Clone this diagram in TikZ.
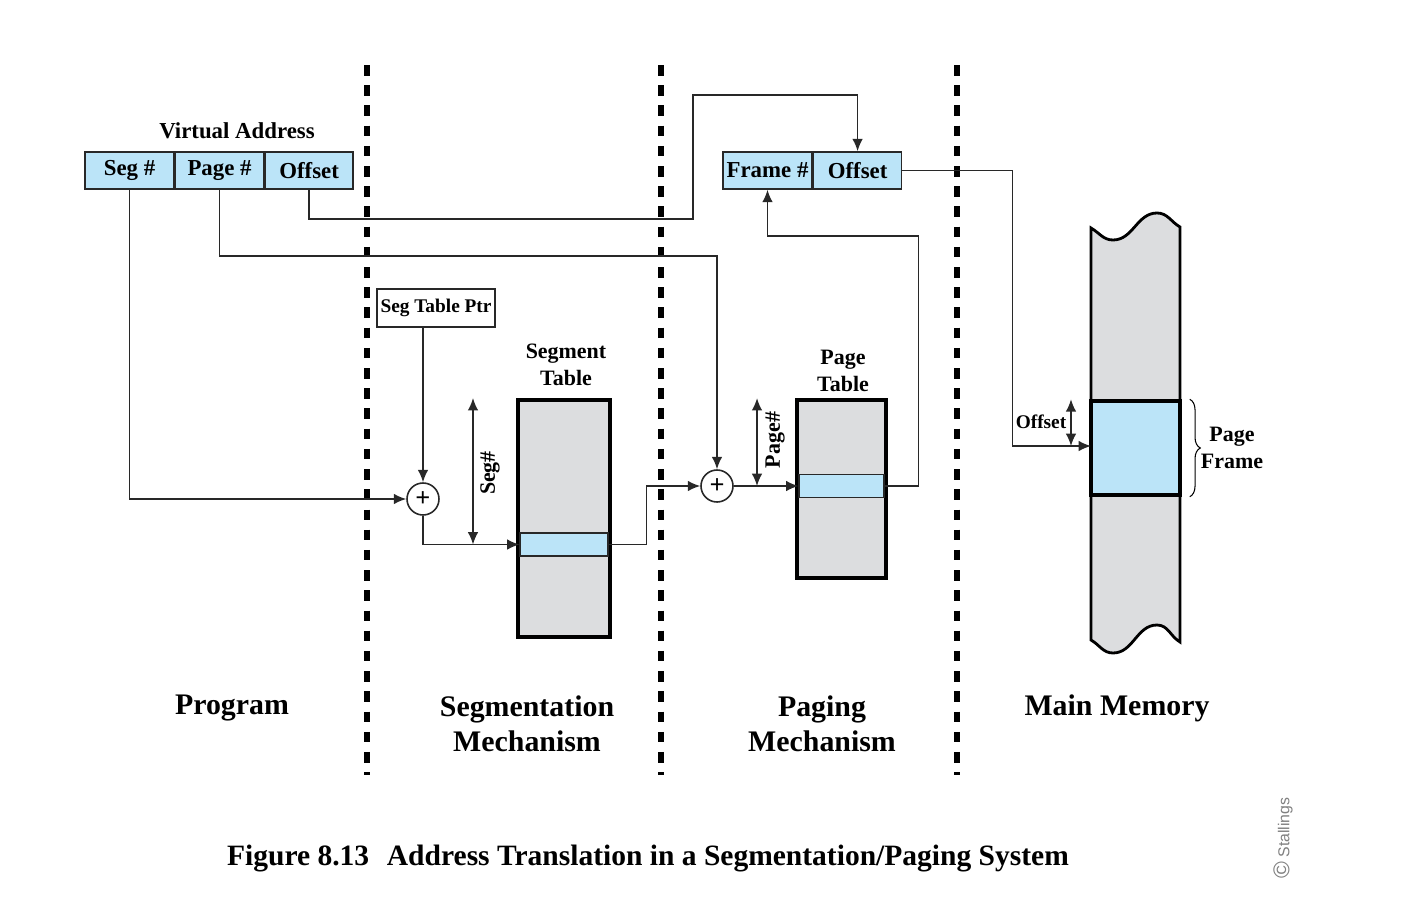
\documentclass[tikz,border=0pt]{standalone}
\usepackage{fontspec}
\setmainfont{Liberation Serif}
\setsansfont{Liberation Sans}
\usepackage {tikz}
\usetikzlibrary {positioning,decorations.pathreplacing,arrows.meta}
\definecolor{vablue}{RGB}{187,228,248}
\definecolor{tgray}{RGB}{220,221,223}
\definecolor{linec}{RGB}{40,40,40}

\begin{document}
\begin{tikzpicture}[x=0.02cm,y=-0.02cm,>={Latex[length=7pt,width=6pt]},line width=0.9pt,
    fld/.style ={rectangle,draw=linec,fill=vablue,inner sep=0pt,
    minimum height=0.74cm,font=\fontsize{13}{15}\selectfont\bfseries},
    adder/.style={circle,draw=linec,fill=white,inner sep=0pt,
    minimum size=0.64cm,font=\fontsize{15}{15}\selectfont\bfseries},
    tbl/.style={rectangle,draw=black,fill=tgray,line width=2.2pt,inner sep=0pt},
    row/.style={rectangle,draw=linec,fill=vablue,inner sep=0pt,
    minimum height=0.46cm,line width=0.6pt},
    sep/.style={line width=3.2pt,dash pattern=on 6pt off 5.5pt},
    lbl/.style={align=center,font=\fontsize{12.5}{15.3}\selectfont\bfseries},
    big/.style={align=center,font=\fontsize{17}{19.8}\selectfont\bfseries}
    ]
    \useasboundingbox (0,0) rectangle (1402,916);

    % separators
    \foreach \x in {367,661,957}
      \draw[sep] (\x,65) -- (\x,775);

    % virtual address
    \node[lbl,font=\fontsize{13}{15}\selectfont\bfseries] (va) at (237,131) {Virtual Address};
    \node[fld,minimum width=1.78cm] (seg) at (129.5,170.5) {Seg \#};
    \node[fld,minimum width=1.76cm] (page) [right=0pt of seg] {Page \#};
    \node[fld,minimum width=1.76cm] (off) [right=0pt of page] {Offset};

    % segmentation
    \node[rectangle,draw=linec,inner sep=0pt,minimum width=2.36cm,minimum height=0.76cm,
      font=\fontsize{11}{13}\selectfont\bfseries] (ptr) at (436,308) {Seg Table Ptr};
    \node[adder] (add1) at (423,499) {+};
    \node[lbl] (seglbl) at (566,365) {Segment\\Table};
    \node[tbl,minimum width=1.84cm,minimum height=4.74cm] (segtab) at (564,518.5) {};
    \node[row,minimum width=1.76cm] (segrow) at (564,544.5) {};
    \coordinate (segdim) at (473,0);
    \node[lbl,rotate=90] (seglab) at (490,473) {Seg\#};

    % paging
    \node[adder] (add2) at (717,486) {+};
    \node[lbl] (pglbl) at (843,371) {Page\\Table};
    \node[tbl,minimum width=1.78cm,minimum height=3.56cm] (pgtab) at (841.5,489) {};
    \node[row,minimum width=1.70cm] (pgrow) at (841.5,486) {};
    \coordinate (pgdim) at (757,0);
    \node[lbl,rotate=90] (pglab) at (775,440) {Page\#};
    \node[fld,minimum width=1.78cm] (frame) at (767.5,170.5) {Frame \#};
    \node[fld,minimum width=1.76cm] (off2) [right=0pt of frame] {Offset};

    % main memory
    \draw[fill=tgray,line width=1.6pt] (1091,228) to[out=-30,in=180] (1113,240)
      to[out=0,in=180] (1157,213) to[out=0,in=150] (1180,227) -- (1180,642)
      to[out=150,in=0] (1157,625) to[out=180,in=0] (1113,653)
      to[out=180,in=-30] (1091,640) -- cycle;
    \node[rectangle,draw=black,fill=vablue,line width=2pt,inner sep=0pt,
      minimum width=1.78cm,minimum height=1.88cm] (pframe) at (1135.5,448) {};
    \coordinate (offin) at (1091,446);
    \coordinate (offdim) at (1071,0);
    \node[lbl,font=\fontsize{11}{13}\selectfont\bfseries] (offlab) at (1041,422) {Offset};
    \draw[line width=0.6pt,decorate,decoration={brace,amplitude=6pt}]
      ([xshift=0.16cm]pframe.north east) -- ([xshift=0.16cm]pframe.south east);
    \node[lbl] (pflbl) at (1232,448) {Page\\Frame};

    % connectors
    \draw[->,linec] (seg.south) |- (add1.west);
    \draw[->,linec] (page.south) -- ++(0,66) -| (add2.north);
    \draw[->,linec] (off.south) -- ++(0,29) -- ++(384,0) -- ++(0,-124) -| (off2.north);
    \draw[->,linec] (ptr.south -| add1) -- (add1.north);
    \draw[->,linec] (add1.south) |- (segrow.west);
    \draw[<->,linec] (segtab.north -| segdim) -- (segrow.west -| segdim);
    \draw[->,linec] (segrow.east) -- ++(38,0) |- (add2.west);
    \draw[->,linec] (add2.east) -- (pgrow.west);
    \draw[<->,linec] (pgtab.north -| pgdim) -- (pgrow.west -| pgdim);
    \draw[->,linec] (pgrow.east) -- ++(34,0) -- ++(0,-250) -| (frame.south);
    \draw[->,linec] (off2.east) -- ++(110,0) |- (offin);
    \draw[<->,linec] (pframe.north -| offdim) -- (offin -| offdim);

    % captions
    \node[big] (prog) at (232,708) {Program};
    \node[big] (segm) at (527,724) {Segmentation\\Mechanism};
    \node[big] (pagm) at (822,724) {Paging\\Mechanism};
    \node[big] (mainm) at (1117,708) {Main Memory};
    \node[font=\fontsize{16.8}{19}\selectfont\bfseries] (fig) at (648,859)
      {Figure 8.13\hspace{0.6em}Address Translation in a Segmentation/Paging System};
    \node[rotate=90,text=gray,font=\sffamily\fontsize{9}{9}\selectfont] (copy) at (1283,838)
      {{\fontsize{13}{13}\selectfont\textcopyright}\ Stallings};
\end{tikzpicture}
\end{document}
